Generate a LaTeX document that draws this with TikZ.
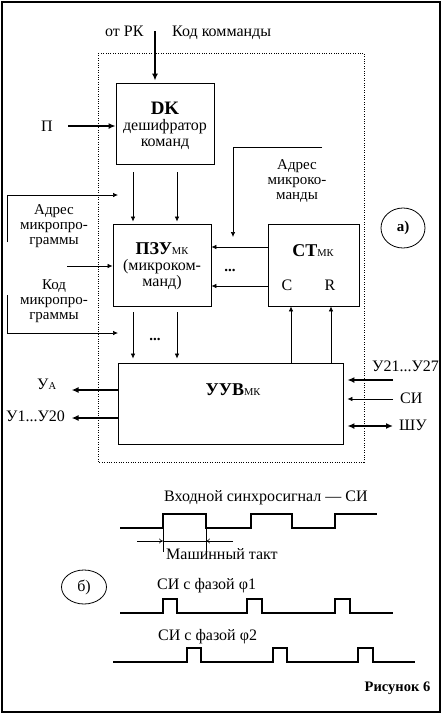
\documentclass[tikz,border=0pt]{standalone}
\usepackage{fontspec}
\setmainfont{Liberation Serif}
\usetikzlibrary{arrows.meta,shapes.geometric}
\newcommand{\mk}{{\mdseries\fontsize{10.5}{10.5}\selectfont МК}}
\begin{document}
\begin{tikzpicture}[x=1pt,y=-1pt,
  box/.style={draw,line width=0.8pt,inner sep=0pt},
  lbl/.style={anchor=base,inner sep=0pt,font=\fontsize{16}{17}\selectfont},
  lblw/.style={lbl,anchor=base west},
  mlbl/.style={anchor=center,inner sep=0pt,align=center,font=\fontsize{15}{15}\selectfont},
  blbl/.style={anchor=base,inner sep=0pt,font=\fontsize{18}{19}\selectfont\bfseries},
  arr/.style={line width=0.7pt,-{Latex[length=5pt,width=4.5pt]}},
  tarr/.style={line width=1.7pt,-{Latex[length=7pt,width=6pt]}},
  darr/.style={line width=1.7pt,{Latex[length=7pt,width=6pt]}-{Latex[length=7pt,width=6pt]}},
  dimarr/.style={line width=0.6pt,-{To[length=4pt,width=5pt]}},
  wave/.style={line width=1.5pt},
  circ/.style={draw,ellipse,line width=0.8pt,inner sep=0pt,font=\fontsize{16}{17}\selectfont}]
\useasboundingbox (0,0) rectangle (446,716);
\draw[line width=1.8pt] (2,2) rectangle (440,712);
\draw[line width=0.8pt,dash pattern=on 0.8pt off 1.6pt] (98,53) rectangle (364,462);

% boxes
\node[box,minimum width=98pt,minimum height=81pt] (dk) at (165,123.5) {};
\node[box,minimum width=98pt,minimum height=82pt] (pzu) at (162,265) {};
\node[box,minimum width=91pt,minimum height=82pt] (ct) at (313.5,265) {};
\node[box,minimum width=225pt,minimum height=81pt] (uuv) at (230.5,403.5) {};

% texts in boxes
\node[anchor=base,inner sep=0pt,font=\fontsize{19}{19}\selectfont\bfseries] (dkt) at (165,114) {DK};
\node[lbl] (dkt2) at (165,130) {дешифратор};
\node[lbl] (dkt3) at (165,146) {команд};
\node[blbl] (pzut) at (162,254.5) {ПЗУ\mk};
\node[lbl] (pzut2) at (162,270.5) {(микроком-};
\node[lbl] (pzut3) at (162,286.5) {манд)};
\node[blbl] (ctt) at (313,256) {СТ\mk};
\node[lbl] (ctc) at (287,290.5) {C};
\node[lbl] (ctr) at (330,290.5) {R};
\node[blbl] (uuvt) at (233,395) {УУВ\mk};

% top input
\node[lblw] (rk) at (105,36) {от РК};
\node[lblw] (kod) at (172,36) {Код комманды};
\coordinate (topin) at (155,31);
\draw[tarr,shorten >=2pt] (topin) -- (topin |- dk.north);

% P input
\node[lbl] (p) at (47,131) {П};
\coordinate (pin) at (68,126);
\draw[tarr] (pin) -- (pin -| dk.west);

% DK -> PZU
\draw[arr,shorten <=8pt,shorten >=2pt] ([xshift=-32pt]dk.south) -- ([xshift=-32pt]dk.south |- pzu.north);
\draw[arr,shorten <=8pt,shorten >=2pt] ([xshift=12pt]dk.south) -- ([xshift=12pt]dk.south |- pzu.north);

% address of microcommand
\coordinate (am1) at (322,147);
\coordinate (am2) at (233,147);
\coordinate (am3) at (233,237);
\draw[arr] (am1) -- (am2) -- (am3);
\node[mlbl] (amt) at (297,180.7) {Адрес\\микроко-\\манды};

% left address of microprogram
\coordinate (la1) at (7,242);
\coordinate (la2) at (7,195);
\coordinate (la3) at (118,195);
\draw[arr] (la1) -- (la2) -- (la3);
\node[mlbl] (lat) at (54,226.2) {Адрес\\микропро-\\граммы};
\coordinate (mid) at (67,266);
\draw[arr] (mid) -- (mid -| pzu.west);
\coordinate (lk1) at (7,295);
\coordinate (lk2) at (7,333);
\coordinate (lk3) at (118,333);
\draw[arr] (lk1) -- (lk2) -- (lk3);
\node[mlbl] (lkt) at (54,300.7) {Код\\микропро-\\граммы};

% CT -> PZU
\draw[arr] ([yshift=18pt]ct.west) -- ([yshift=18pt]ct.west -| pzu.east);
\draw[arr] ([yshift=-21pt]ct.west) -- ([yshift=-21pt]ct.west -| pzu.east);
\node[anchor=base,inner sep=0pt,font=\fontsize{15}{15}\selectfont\bfseries] (dots1) at (230,271) {...};

% PZU -> UUV
\draw[arr,shorten <=6pt,shorten >=4pt] ([xshift=-29pt]pzu.south) -- ([xshift=-29pt]pzu.south |- uuv.north);
\draw[arr,shorten <=6pt,shorten >=4pt] ([xshift=15pt]pzu.south) -- ([xshift=15pt]pzu.south |- uuv.north);
\node[anchor=base,inner sep=0pt,font=\fontsize{15}{15}\selectfont\bfseries] (dots2) at (155,340) {...};

% UUV -> CT
\draw[arr] ([xshift=-22.5pt]ct.south |- uuv.north) -- ([xshift=-22.5pt]ct.south);
\draw[arr] ([xshift=17.5pt]ct.south |- uuv.north) -- ([xshift=17.5pt]ct.south);

% outputs left
\node[lblw] (ua) at (37,389.5) {У{\fontsize{10.5}{10.5}\selectfont А}};
\node[lblw] (u120) at (6,421.5) {У1...У20};
\draw[tarr] ([yshift=13.5pt]uuv.west) -- ++(-46,0);
\draw[tarr] ([yshift=-14.5pt]uuv.west) -- ++(-46,0);

% inputs right
\node[lblw] (u2127) at (372,371.5) {У21...У27};
\node[lblw] (si) at (400,403.5) {СИ};
\node[lblw] (shu) at (399,430.5) {ШУ};
\coordinate (r1) at (393,380);
\coordinate (r2) at (393,399);
\coordinate (r3) at (393,426);
\draw[tarr,shorten >=4pt] (r1) -- (r1 -| uuv.east);
\draw[arr,shorten >=4pt] (r2) -- (r2 -| uuv.east);
\draw[darr,shorten <=4pt] (r3 -| uuv.east) -- (r3);

% a)
\node[circ,minimum width=44pt,minimum height=40pt,font=\fontsize{15}{15}\selectfont\bfseries] (ca) at (403,228) {а)};

% timing diagrams
\node[lblw] (wt1) at (164,501) {Входной синхросигнал — СИ};
\draw[wave] (120,528) -- (163,528) -- (163,514) -- (206,514) -- (206,528) -- (251,528) -- (251,514) -- (292,514) -- (292,528) -- (335,528) -- (335,514) -- (377,514);
\draw[line width=0.6pt] (163,528) -- (163,552);
\draw[line width=0.6pt] (206,528) -- (206,552);
\draw[line width=0.6pt] (163,541) -- (206,541);
\draw[dimarr] (137,541) -- (163,541);
\draw[dimarr] (233,541) -- (206,541);
\node[lblw] (wt2) at (166,559) {Машинный такт};

\node[circ,minimum width=45pt,minimum height=34pt] (cb) at (84,587) {б)};
\node[lblw] (wt3) at (157,589) {СИ с фазой φ1};
\draw[wave] (120,613) -- (163,613) -- (163,599) -- (177,599) -- (177,613) -- (247,613) -- (247,599) -- (262,599) -- (262,613) -- (335,613) -- (335,599) -- (350,599) -- (350,613) -- (393,613);
\node[lblw] (wt4) at (158,640) {СИ с фазой φ2};
\draw[wave] (113,662) -- (187,662) -- (187,648) -- (201,648) -- (201,662) -- (273,662) -- (273,648) -- (287,648) -- (287,662) -- (358,662) -- (358,648) -- (373,648) -- (373,662) -- (415,662);
\node[anchor=base,inner sep=0pt,font=\fontsize{14.5}{15}\selectfont\bfseries] (fig) at (397.5,691) {Рисунок 6};
\end{tikzpicture}
\end{document}
